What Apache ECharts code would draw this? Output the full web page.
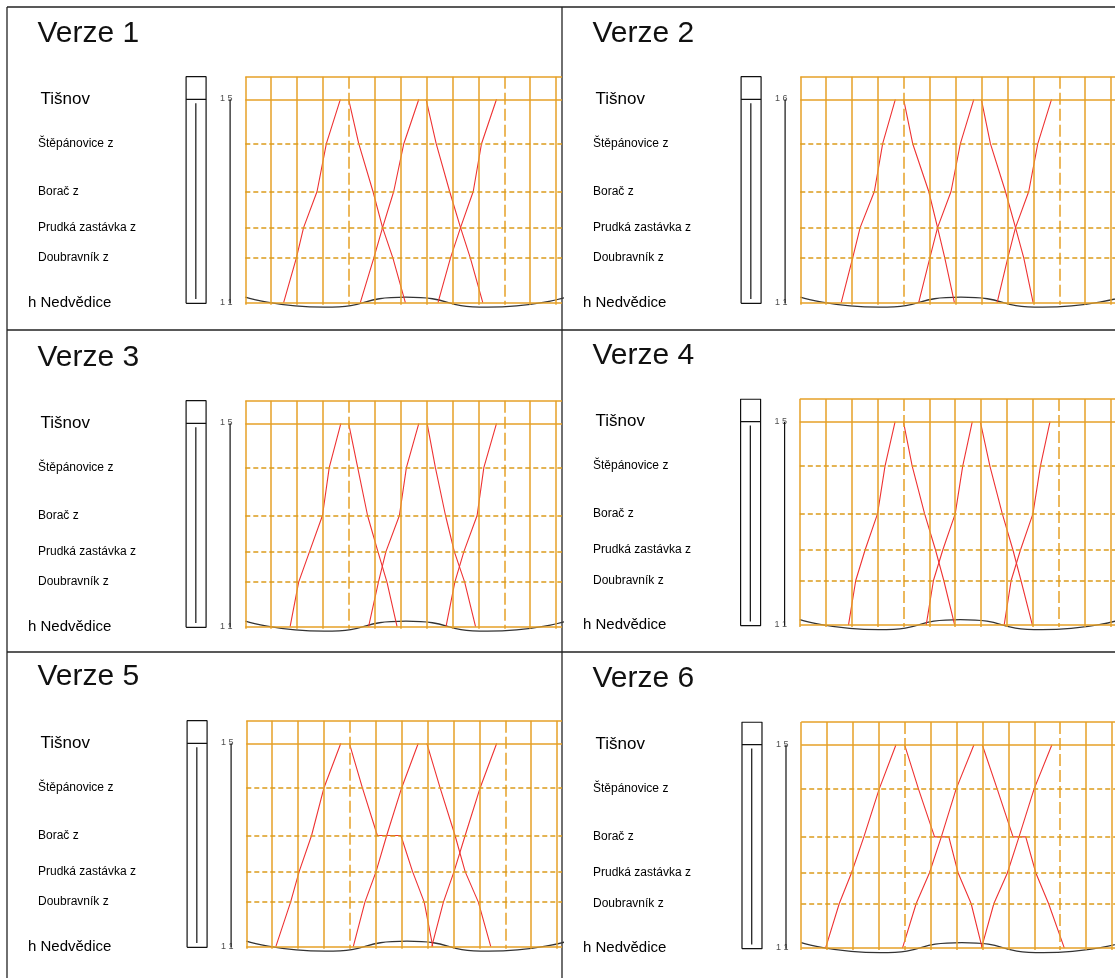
<!DOCTYPE html>
<html><head><meta charset="utf-8">
<script src="https://cdn.jsdelivr.net/npm/echarts@6/dist/echarts.min.js"></script>
<style>html,body{margin:0;padding:0;background:#fff}#c{width:1115px;height:978px}</style>
</head><body><div id="c"></div>
<script>
// ---------------- data ----------------
const versions = ['Verze 1', 'Verze 2', 'Verze 3', 'Verze 4', 'Verze 5', 'Verze 6'];
const stations = ['h Nedvědice', 'Doubravník z', 'Prudká zastávka z', 'Borač z', 'Štěpánovice z', 'Tišnov'];
const stationKm = [0, 4.46, 7.51, 11.12, 15.9, 20.34];
const gridTopKm = 22.6;
const gridMinutes = [0, 10, 20, 30, 40, 50, 60, 70, 80, 90, 100, 110, 120];
const hourMinutes = [40, 100];
const topTicks = ['1 5', '1 6', '1 5', '1 5', '1 5', '1 5'];
const bottomTicks = ['1 1', '1 1', '1 1', '1 1', '1 1', '1 1'];
const waveMin = [0, 30.5, 62, 93.5, 124];
const waveKm = [0.55, -0.45, 0.55, -0.45, 0.55];

// station sequences (indices into stations)
const UP = [0, 1, 2, 3, 4, 5];
const DOWN = [5, 4, 3, 2, 1, 0];
const DOWN_STOP = [5, 4, 3, 3, 2, 1, 0];

// train paths: minutes at each station of the sequence
const v1 = [
  { s: UP,   t: [14.8, 19.7, 22.5, 27.7, 31.3, 36.7] },
  { s: DOWN, t: [39.9, 43.8, 49.3, 53.0, 57.0, 61.8] },
  { s: UP,   t: [44.4, 49.6, 53.0, 57.3, 61.2, 67.0] },
  { s: DOWN, t: [69.8, 73.7, 78.9, 83.1, 86.9, 91.7] },
  { s: UP,   t: [74.4, 79.2, 83.1, 88.0, 91.2, 97.0] }
];
const v2 = [
  { s: UP,   t: [15.8, 20.2, 23.1, 28.6, 31.8, 36.7] },
  { s: DOWN, t: [39.9, 43.4, 49.6, 53.0, 55.8, 59.5] },
  { s: UP,   t: [45.7, 50.0, 53.0, 58.2, 61.8, 67.0] },
  { s: DOWN, t: [69.9, 73.4, 79.2, 83.1, 86.3, 89.9] },
  { s: UP,   t: [76.0, 80.1, 83.1, 88.2, 91.7, 97.0] }
];
const v3 = [
  { s: UP,   t: [17.3, 20.6, 24.8, 29.8, 32.4, 36.9] },
  { s: DOWN, t: [39.9, 43.4, 47.2, 51.2, 54.7, 58.6] },
  { s: UP,   t: [47.6, 51.4, 54.3, 59.5, 62.2, 67.0] },
  { s: DOWN, t: [70.2, 73.4, 77.3, 80.7, 84.7, 88.9] },
  { s: UP,   t: [77.5, 80.9, 84.4, 89.5, 92.1, 97.0] }
];
const v4 = [
  { s: UP,   t: [18.8, 21.6, 25.2, 30.0, 32.9, 36.8] },
  { s: DOWN, t: [40.0, 43.4, 48.2, 52.4, 55.6, 59.8] },
  { s: UP,   t: [48.8, 51.6, 55.2, 60.0, 62.9, 66.6] },
  { s: DOWN, t: [69.7, 73.4, 78.2, 82.3, 85.4, 89.8] },
  { s: UP,   t: [78.9, 81.6, 85.2, 90.0, 92.9, 96.6] }
];
const v5 = [
  { s: UP,        t: [11.4, 17.1, 20.4, 25.2, 30.0, 36.5] },
  { s: DOWN_STOP, t: [39.8, 44.8, 50.6, 59.7, 64.2, 68.7, 72.0] },
  { s: UP,        t: [41.3, 45.8, 50.1, 54.2, 60.0, 66.4] },
  { s: DOWN,      t: [69.7, 74.8, 80.6, 84.5, 89.6, 94.4] },
  { s: UP,        t: [71.6, 76.1, 80.2, 84.5, 90.3, 96.7] }
];
const v6 = [
  { s: UP,        t: [9.4, 14.7, 19.4, 24.2, 30.1, 36.6] },
  { s: DOWN_STOP, t: [39.9, 45.3, 51.5, 57.0, 60.6, 65.6, 69.9] },
  { s: UP,        t: [39.1, 44.4, 49.5, 54.1, 59.8, 66.7] },
  { s: DOWN_STOP, t: [69.9, 75.7, 81.8, 86.7, 90.6, 95.5, 101.6] },
  { s: UP,        t: [69.6, 74.4, 79.6, 84.1, 89.9, 96.8] }
];
const trainsByVersion = [v1, v2, v3, v4, v5, v6];

// ---------------- layout ----------------
const FONT = '"Liberation Sans", Arial, sans-serif';
const PX_PER_MIN = 2.59, PX_PER_KM = 10;
const X_MIN = -24, Y_MIN = -1.5;
const panels = [
  { x: 7,   y: 7,   right: 562,  t0: 245.3, tisY: 99.3,  capTop: 23.3 },
  { x: 562, y: 7,   right: 1115, t0: 800.3, tisY: 99.3,  capTop: 23.3 },
  { x: 7,   y: 330, right: 562,  t0: 245.3, tisY: 423.3, capTop: 347 },
  { x: 562, y: 330, right: 1115, t0: 799.8, tisY: 421.7, capTop: 345.5 },
  { x: 7,   y: 652, right: 562,  t0: 246.3, tisY: 743.3, capTop: 666.7 },
  { x: 562, y: 652, right: 1115, t0: 801.2, tisY: 744.7, capTop: 668 }
];
// decorative block left of the diagram (minutes / km units)
const BOX = { x1: -22.86, x2: -15.14, xi: -19.1, bottom: -0.06, innerTop: 19.95, innerBottom: 0.36, bar: -5.87 };

const ORANGE = '#e6a127', ORANGE_DASH = '#dc9c1c', RED = '#ee3333';

const grids = [], xAxes = [], yAxes = [], series = [], titles = [];

panels.forEach((p, i) => {
  const left = p.t0 + X_MIN * PX_PER_MIN;
  const xMax = (p.right - p.t0) / PX_PER_MIN;
  const nedvY = p.tisY + stationKm[5] * PX_PER_KM;
  const top = nedvY - gridTopKm * PX_PER_KM;
  grids.push({ left: left, top: top, width: p.right - left, height: (gridTopKm - Y_MIN) * PX_PER_KM,
               containLabel: false, outerBoundsMode: 'none' });
  xAxes.push({ type: 'value', gridIndex: i, min: X_MIN, max: xMax, show: false });
  yAxes.push({
    type: 'value', gridIndex: i, min: Y_MIN, max: gridTopKm,
    axisLine: { show: false }, axisTick: { show: false }, splitLine: { show: false },
    axisLabel: {
      show: true, customValues: stationKm, align: 'left', margin: left - (p.x + 21),
      fontFamily: FONT, color: '#000',
      formatter: (v) => {
        let k = 0, best = 1e9;
        stationKm.forEach((s, j) => { if (Math.abs(s - v) < best) { best = Math.abs(s - v); k = j; } });
        if (k === 5) return '{a|' + stations[k] + '}';
        if (k === 0) return '{c|' + stations[k] + '}';
        return '{b|' + stations[k] + '}';
      },
      rich: {
        a: { fontSize: 17, padding: [0, 0, 0, 12.5], color: '#000', fontFamily: FONT },
        b: { fontSize: 12, padding: [0, 0, 0, 10], color: '#000', fontFamily: FONT },
        c: { fontSize: 15, color: '#000', fontFamily: FONT }
      }
    }
  });
  titles.push({ text: versions[i], left: p.x + 30.5, top: p.capTop - 4.5, padding: 0,
    textStyle: { fontSize: 30, fontWeight: 'normal', color: '#111', fontFamily: FONT } });

  const ax = { xAxisIndex: i, yAxisIndex: i };
  // grid lines
  const ml = [];
  gridMinutes.forEach(t => {
    const hour = hourMinutes.indexOf(t) >= 0;
    ml.push([{ coord: [t, gridTopKm], lineStyle: { color: ORANGE, width: 1.5, type: hour ? [12, 4] : 'solid' } },
             { coord: [t, -0.2] }]);
  });
  const hLines = [gridTopKm].concat(stationKm);
  hLines.forEach((y, j) => {
    const solid = (j === 0 || y === stationKm[0] || y === stationKm[5]);
    ml.push([{ coord: [0, y], lineStyle: { color: solid ? ORANGE : ORANGE_DASH, width: 1.5, type: solid ? 'solid' : [5, 3] } },
             { coord: [xMax, y] }]);
  });
  series.push(Object.assign({ type: 'line', data: [[0, 0]], showSymbol: false, lineStyle: { width: 0 }, z: 1,
    markLine: { symbol: ['none', 'none'], silent: true, animation: false, label: { show: false },
                emphasis: { disabled: true }, data: ml } }, ax));
  // wave
  series.push(Object.assign({ type: 'line', data: waveMin.map((t, j) => [t, waveKm[j]]), smooth: 0.6,
    showSymbol: false, lineStyle: { color: '#333', width: 1.3 }, z: 2 }, ax));
  // box
  const blk = { type: 'line', showSymbol: false, lineStyle: { color: '#111', width: 1.2 }, z: 2 };
  series.push(Object.assign({}, blk, ax, { data: [[BOX.x1, BOX.bottom], [BOX.x1, gridTopKm], [BOX.x2, gridTopKm], [BOX.x2, BOX.bottom], [BOX.x1, BOX.bottom]] }));
  series.push(Object.assign({}, blk, ax, { data: [[BOX.x1, stationKm[5]], [BOX.x2, stationKm[5]]] }));
  series.push(Object.assign({}, blk, ax, { data: [[BOX.xi, BOX.innerTop], [BOX.xi, BOX.innerBottom]] }));
  series.push(Object.assign({}, blk, ax, { data: [[BOX.bar, BOX.bottom], [BOX.bar, stationKm[5]]] }));
  // tick labels at the bar
  series.push(Object.assign({ type: 'scatter', symbolSize: 0.1, itemStyle: { color: 'rgba(0,0,0,0)' }, z: 3,
    data: [[BOX.bar, stationKm[5], topTicks[i]], [BOX.bar, stationKm[0], bottomTicks[i]]],
    label: { show: true, position: [-10, -5], formatter: (d) => d.value[2], fontSize: 9, color: '#222', fontFamily: FONT } }, ax));
  // trains
  trainsByVersion[i].forEach(tr => {
    series.push(Object.assign({ type: 'line', showSymbol: false, z: 4,
      lineStyle: { color: RED, width: 1.1 },
      data: tr.t.map((t, j) => [t, stationKm[tr.s[j]]]) }, ax));
  });
});

const frame = { stroke: '#222', lineWidth: 1.3 };
const graphic = [
  { type: 'line', shape: { x1: 7, y1: 7, x2: 1115, y2: 7 }, style: frame },
  { type: 'line', shape: { x1: 7, y1: 330, x2: 1115, y2: 330 }, style: frame },
  { type: 'line', shape: { x1: 7, y1: 652, x2: 1115, y2: 652 }, style: frame },
  { type: 'line', shape: { x1: 7, y1: 7, x2: 7, y2: 978 }, style: frame },
  { type: 'line', shape: { x1: 562, y1: 7, x2: 562, y2: 978 }, style: frame }
];

const chart = echarts.init(document.getElementById('c'), null, { renderer: 'canvas' });
chart.setOption({
  animation: false,
  backgroundColor: '#fff',
  title: titles,
  grid: grids, xAxis: xAxes, yAxis: yAxes, series: series,
  graphic: graphic
});
</script></body></html>
